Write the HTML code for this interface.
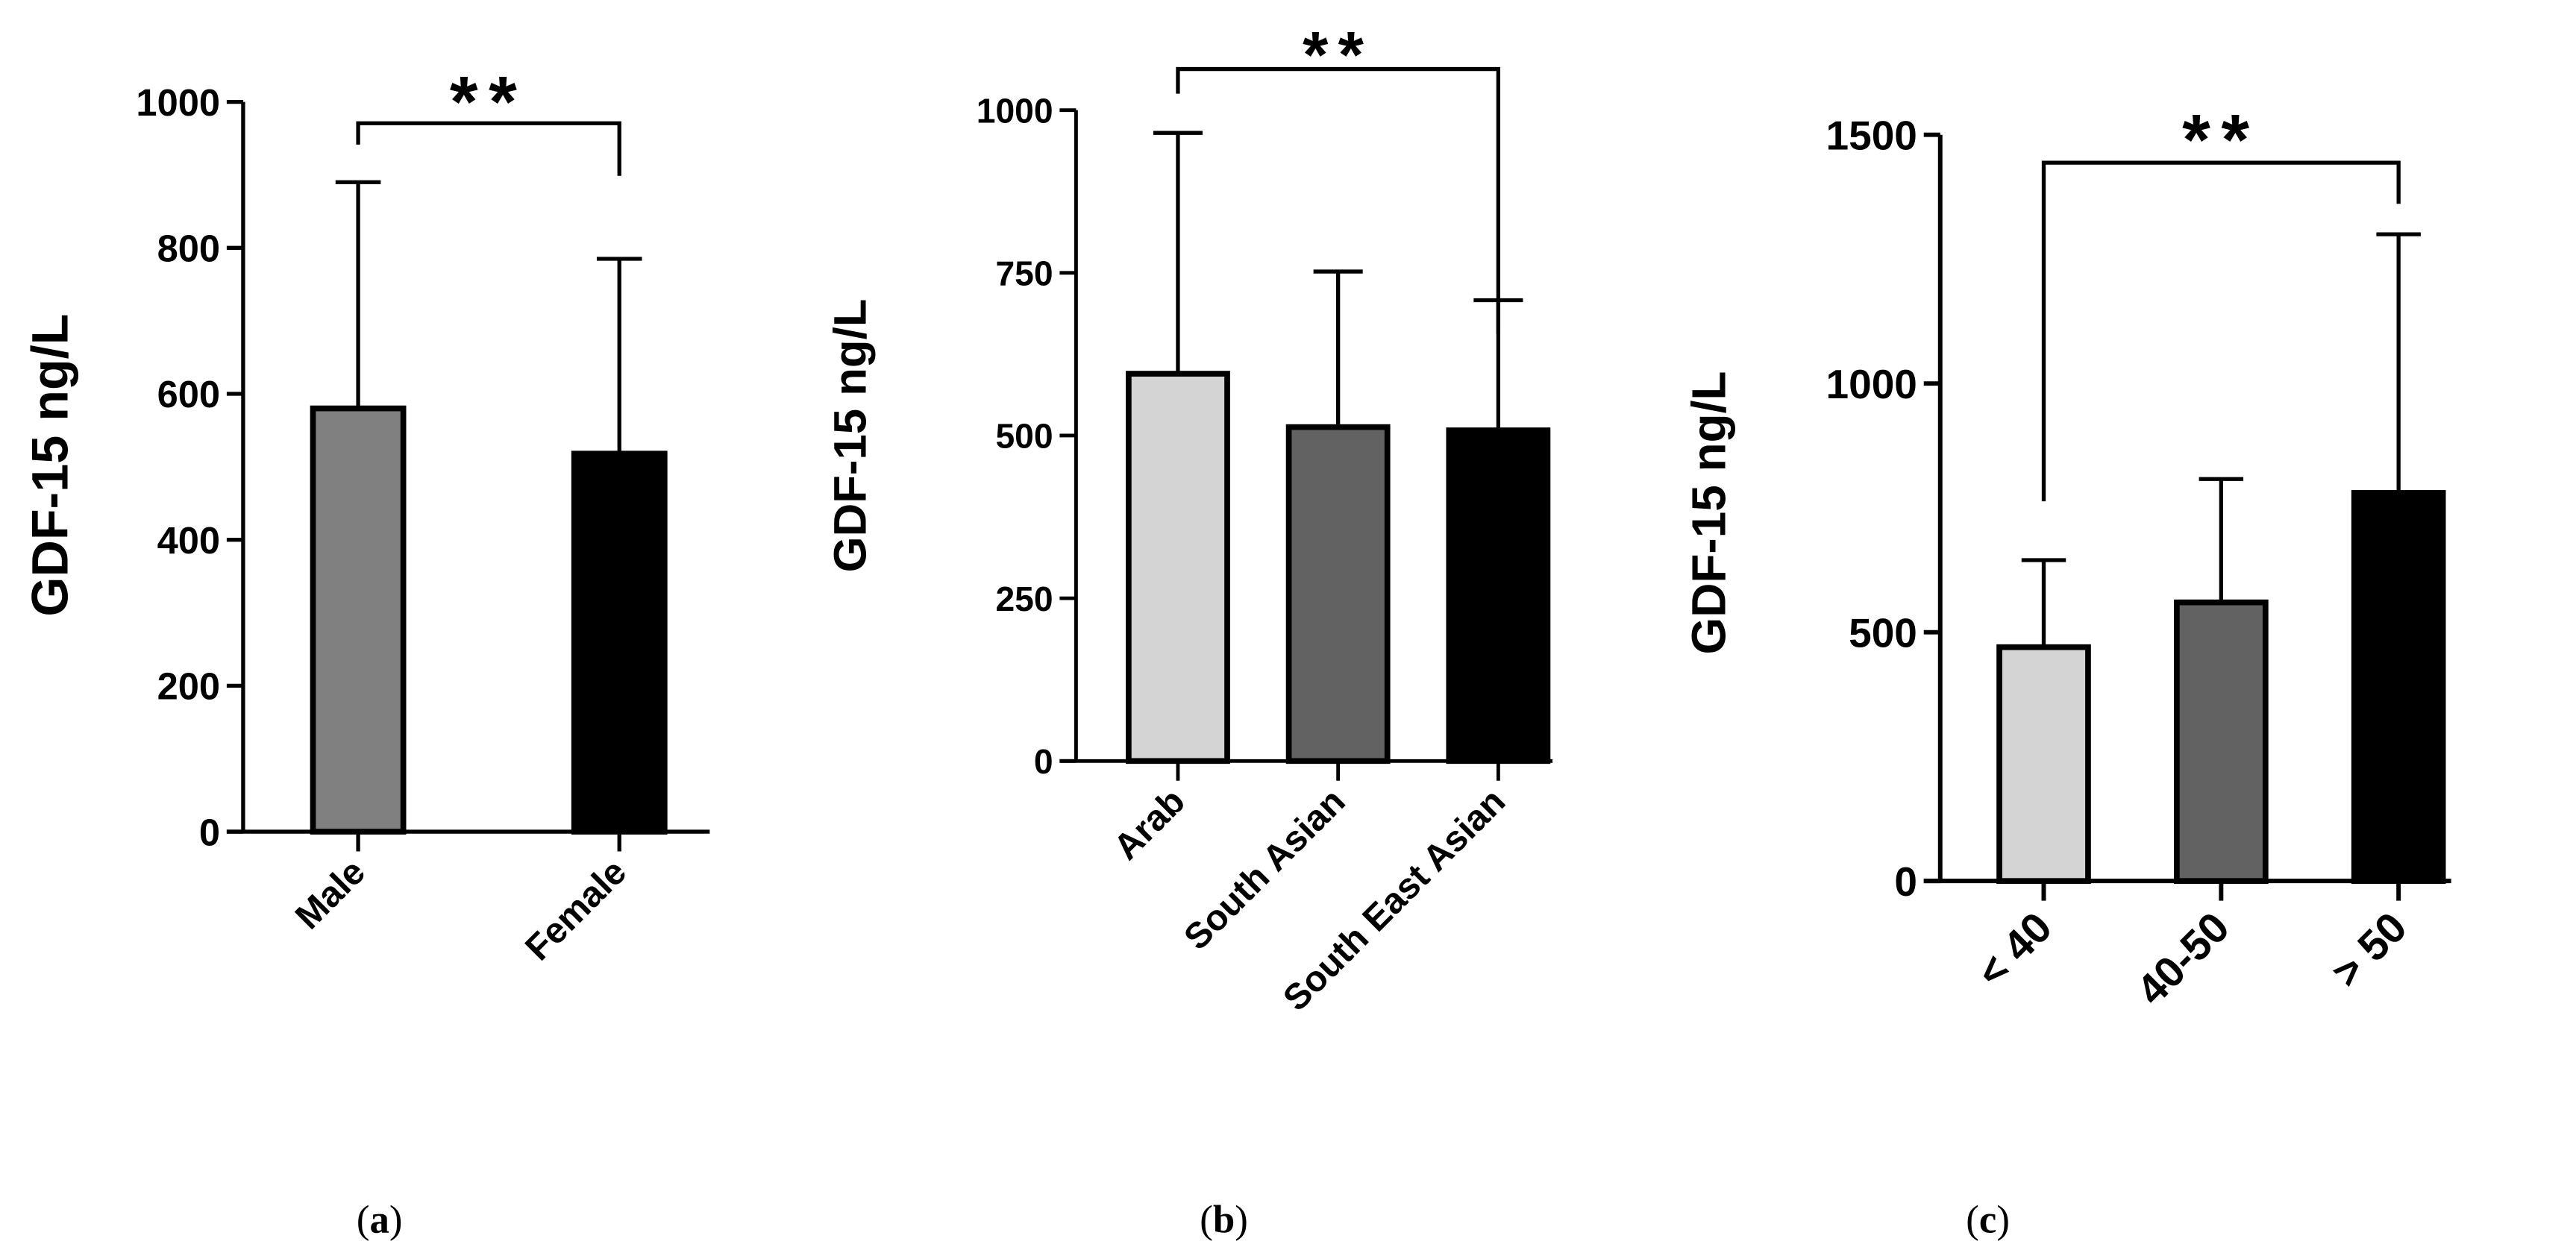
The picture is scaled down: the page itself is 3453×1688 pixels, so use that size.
<!DOCTYPE html>
<html><head><meta charset="utf-8"><style>
html,body{margin:0;padding:0;background:#fff;}
svg{display:block;}
text{font-family:"Liberation Sans",Arial,sans-serif;font-weight:bold;fill:#000;}
.cap{font-family:"Liberation Serif",serif;font-weight:normal;font-size:24px;}
</style></head><body>
<svg id="fig" width="3453" height="1688" viewBox="0 0 1568 766" preserveAspectRatio="none" xmlns="http://www.w3.org/2000/svg">
<text class="cap" x="231" y="750" text-anchor="middle">(<tspan font-weight="bold">a</tspan>)</text>
<text class="cap" x="745" y="750" text-anchor="middle">(<tspan font-weight="bold">b</tspan>)</text>
<text class="cap" x="1210" y="750" text-anchor="middle">(<tspan font-weight="bold">c</tspan>)</text>
</svg>
<script>
// Panel a
const catsA = ["Male","Female"];
const meanA = [580,518];
const errA = [890,785];
const ticksA = [0,200,400,600,800,1000];
// Panel b
const catsB = ["Arab","South Asian","South East Asian"];
const meanB = [595,513,508];
const errB = [965,752,708];
const ticksB = [0,250,500,750,1000];
// Panel c
const catsC = ["< 40","40-50","> 50"];
const meanC = [470,560,780];
const errC = [645,808,1300];
const ticksC = [0,500,1000,1500];

const NS="http://www.w3.org/2000/svg";
const svg=document.getElementById('fig');
function mk(tag,attrs,parent){const e=document.createElementNS(NS,tag);for(const k in attrs)e.setAttribute(k,attrs[k]);(parent||svg).appendChild(e);return e;}

function panel(cfg){
  const g=mk('g',{});
  
  
  const y=v=>cfg.y0-(v-0)/(cfg.vmax)*(cfg.y0-cfg.yTop);
  const xc=i=>cfg.first+i*cfg.step;
  const ya=mk('line',{x1:cfg.ax,y1:y(cfg.vmax),x2:cfg.ax,y2:cfg.y0,stroke:'#000','stroke-width':cfg.lw},g);
  
  
  const xa=mk('line',{x1:cfg.ax-10,y1:cfg.y0,x2:cfg.xEnd,y2:cfg.y0,stroke:'#000','stroke-width':cfg.lw},g);
  
  
  cfg.ticks.forEach(t=>{
    const tl=mk('line',{x1:cfg.ax-10,y1:y(t),x2:cfg.ax,y2:y(t),stroke:'#000','stroke-width':cfg.lw},g);
    
    
    const tx=mk('text',{x:cfg.ax-14,y:y(t)+cfg.fs*0.36,'text-anchor':'end','font-size':cfg.fs},g);
    tx.textContent=t;
    
    
  });
  const title=mk('text',{x:0,y:0,'text-anchor':'middle','font-size':cfg.tfs,transform:`translate(${cfg.titleX},${cfg.titleY}) rotate(-90)`},g);
  title.textContent='GDF-15 ng/L';
  
  
  cfg.cats.forEach((c,i)=>{
    const cx=xc(i);
    const hw=cfg.bw/2;
    const eb=mk('line',{x1:cx,y1:y(cfg.err[i]),x2:cx,y2:y(cfg.mean[i]),stroke:'#000','stroke-width':2.4},g);
    
    
    const ec=mk('line',{x1:cx-hw*0.5,y1:y(cfg.err[i]),x2:cx+hw*0.5,y2:y(cfg.err[i]),stroke:'#000','stroke-width':2.4},g);
    
    
    const r=mk('rect',{x:cx-hw,y:y(cfg.mean[i]),width:cfg.bw,height:cfg.y0-y(cfg.mean[i]),fill:cfg.fills[i],stroke:'#000','stroke-width':3.5},g);
    
    
    const xt=mk('line',{x1:cx,y1:cfg.y0,x2:cx,y2:cfg.y0+12,stroke:'#000','stroke-width':cfg.lw},g);
    
    
    const lx=cx+cfg.xfs*0.25, ly=cfg.y0+cfg.xfs*1.0+4;
    const lab=mk('text',{x:0,y:0,'text-anchor':'end','font-size':cfg.xfs,transform:`translate(${lx},${ly}) rotate(-45)`},g);
    lab.textContent=c;
    
    
  });
  const [a,b]=cfg.brIdx;
  const br=mk('polyline',{points:`${xc(a)},${cfg.brL} ${xc(a)},${cfg.brY} ${xc(b)},${cfg.brY} ${xc(b)},${cfg.brR}`,fill:'none',stroke:'#000','stroke-width':2.4},g);
  
  
  const st=mk('text',{x:(xc(a)+xc(b))/2,y:cfg.brY+cfg.starOff,'text-anchor':'middle','font-size':cfg.sfs,'letter-spacing':cfg.sfs*0.15},g);
  st.textContent='**';
  
  
}

panel({name:'panel-a-sex',cats:catsA,mean:meanA,err:errA,ticks:ticksA,vmax:1000,
  ax:148,y0:506,yTop:62,xEnd:432,first:218,step:159,bw:55,lw:2.4,
  fills:['#808080','#000'],fs:23,xfs:22,tfs:31,titleX:41,titleY:283,
  brIdx:[0,1],brY:75,brL:88,brR:107,starOff:2,sfs:44});
panel({name:'panel-b-ethnicity',cats:catsB,mean:meanB,err:errB,ticks:ticksB,vmax:1000,
  ax:655,y0:463,yTop:67,xEnd:945,first:717,step:97.5,bw:60,lw:2.2,
  fills:['#d4d4d4','#626262','#000'],fs:21,xfs:22,tfs:28,titleX:527,titleY:265,
  brIdx:[0,2],brY:42,brL:57,brR:203,starOff:5,sfs:40});
panel({name:'panel-c-age',cats:catsC,mean:meanC,err:errC,ticks:ticksC,vmax:1500,
  ax:1181,y0:536,yTop:82,xEnd:1492,first:1244,step:108,bw:54,lw:2.7,
  fills:['#d4d4d4','#626262','#000'],fs:25,xfs:26,tfs:29,titleX:1050,titleY:312,
  brIdx:[0,2],brY:99,brL:305,brR:124,starOff:1,sfs:44});
</script>
</body></html>
